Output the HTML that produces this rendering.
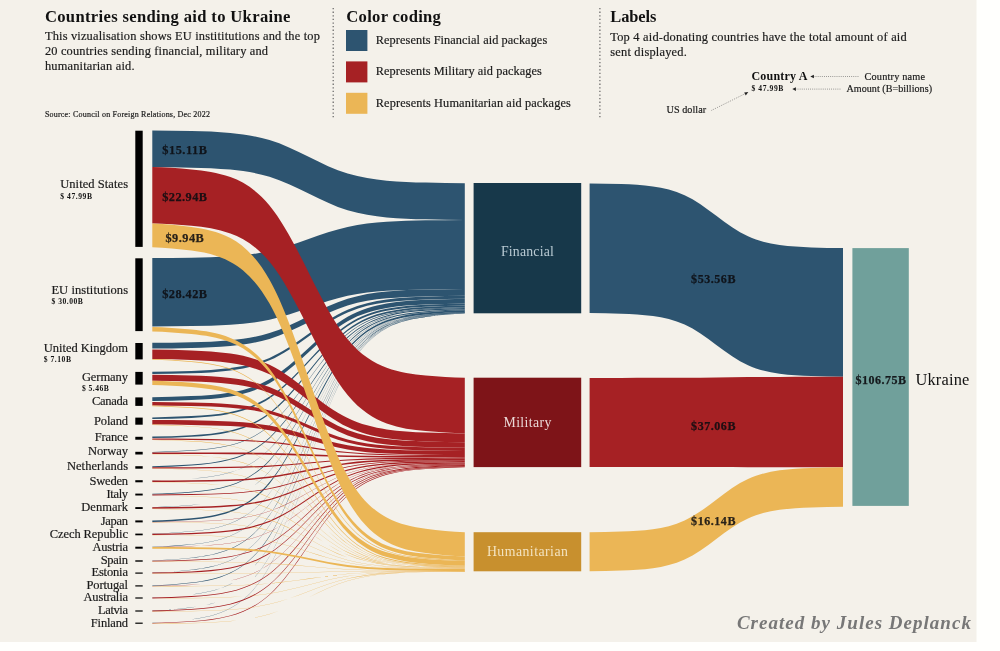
<!DOCTYPE html>
<html lang="en"><head><meta charset="utf-8"><title>Countries sending aid to Ukraine</title>
<style>html,body{margin:0;padding:0;background:#fff}body{width:1000px;height:651px;overflow:hidden}svg{display:block}</style>
</head><body>
<svg width="1000" height="651" viewBox="0 0 1000 651" font-family="Liberation Serif, serif">
<rect width="1000" height="651" fill="#fffffd"/>
<rect width="976.5" height="642" fill="#f4f1ea"/>
<g fill="#2d5470">
<path d="M152.3 130.5C165.3 130.6 178.3 130.8 191.4 131.1C204.4 131.4 217.4 131.8 230.4 133C243.4 134.2 256.5 136.2 269.5 140.1C282.5 144 295.5 150.3 308.6 156.8C321.6 163.4 334.6 169.7 347.6 173.6C360.6 177.5 373.7 179.5 386.7 180.7C399.7 181.9 412.7 182.3 425.7 182.6C438.8 182.9 451.8 183.1 464.8 183.2V219.9C451.8 219.9 438.8 219.6 425.7 219.3C412.7 219.1 399.7 218.6 386.7 217.4C373.7 216.2 360.6 214.2 347.6 210.3C334.6 206.3 321.6 200.1 308.6 193.5C295.5 186.9 282.5 180.7 269.5 176.7C256.5 172.8 243.4 170.8 230.4 169.6C217.4 168.4 204.4 168 191.4 167.7C178.3 167.4 165.3 167.2 152.3 167.1Z"/>
<path d="M152.3 258.1C165.3 258.1 178.3 257.9 191.4 257.7C204.4 257.5 217.4 257.2 230.4 256.3C243.4 255.4 256.5 254 269.5 251.1C282.5 248.3 295.5 243.8 308.6 239C321.6 234.2 334.6 229.7 347.6 226.9C360.6 224 373.7 222.6 386.7 221.7C399.7 220.9 412.7 220.5 425.7 220.3C438.8 220.1 451.8 220 464.8 219.9V289C451.8 289 438.8 289.2 425.7 289.4C412.7 289.6 399.7 289.9 386.7 290.8C373.7 291.6 360.6 293 347.6 295.8C334.6 298.6 321.6 303 308.6 307.7C295.5 312.4 282.5 316.9 269.5 319.7C256.5 322.5 243.4 323.9 230.4 324.7C217.4 325.6 204.4 325.9 191.4 326.1C178.3 326.3 165.3 326.5 152.3 326.5Z"/>
<path d="M152.3 342.8C165.3 342.7 178.3 342.5 191.4 342.2C204.4 341.9 217.4 341.5 230.4 340.2C243.4 339 256.5 337 269.5 333C282.5 329 295.5 322.6 308.6 315.9C321.6 309.2 334.6 302.8 347.6 298.8C360.6 294.8 373.7 292.7 386.7 291.5C399.7 290.3 412.7 289.9 425.7 289.6C438.8 289.3 451.8 289 464.8 289V295.8C451.8 295.9 438.8 296.1 425.7 296.4C412.7 296.7 399.7 297.1 386.7 298.3C373.7 299.5 360.6 301.5 347.6 305.4C334.6 309.4 321.6 315.6 308.6 322.2C295.5 328.7 282.5 335 269.5 338.9C256.5 342.8 243.4 344.8 230.4 346C217.4 347.2 204.4 347.6 191.4 347.9C178.3 348.2 165.3 348.4 152.3 348.5Z"/>
<path d="M152.3 371.7C165.3 371.6 178.3 371.3 191.4 370.9C204.4 370.5 217.4 369.8 230.4 368.1C243.4 366.4 256.5 363.5 269.5 357.9C282.5 352.2 295.5 343.2 308.6 333.8C321.6 324.3 334.6 315.3 347.6 309.7C360.6 304 373.7 301.1 386.7 299.4C399.7 297.7 412.7 297.1 425.7 296.7C438.8 296.3 451.8 295.9 464.8 295.8V298.7C451.8 298.8 438.8 299.1 425.7 299.5C412.7 300 399.7 300.6 386.7 302.3C373.7 304 360.6 306.8 347.6 312.5C334.6 318.1 321.6 327 308.6 336.4C295.5 345.8 282.5 354.7 269.5 360.3C256.5 366 243.4 368.8 230.4 370.5C217.4 372.2 204.4 372.9 191.4 373.3C178.3 373.7 165.3 374 152.3 374.1Z"/>
<path d="M152.3 397.2C165.3 397.1 178.3 396.7 191.4 396.1C204.4 395.6 217.4 394.8 230.4 392.5C243.4 390.3 256.5 386.6 269.5 379.2C282.5 371.9 295.5 360.3 308.6 348C321.6 335.6 334.6 324 347.6 316.7C360.6 309.3 373.7 305.6 386.7 303.4C399.7 301.2 412.7 300.3 425.7 299.8C438.8 299.3 451.8 298.8 464.8 298.7V303.4C451.8 303.5 438.8 304 425.7 304.5C412.7 305 399.7 305.8 386.7 308C373.7 310.2 360.6 313.9 347.6 321.2C334.6 328.5 321.6 340 308.6 352.3C295.5 364.5 282.5 376 269.5 383.3C256.5 390.6 243.4 394.3 230.4 396.5C217.4 398.7 204.4 399.5 191.4 400C178.3 400.6 165.3 401 152.3 401.1Z"/>
<path d="M152.3 417.4C165.3 417.3 178.3 416.8 191.4 416.1C204.4 415.5 217.4 414.6 230.4 412C243.4 409.4 256.5 405.1 269.5 396.6C282.5 388.1 295.5 374.7 308.6 360.4C321.6 346.2 334.6 332.7 347.6 324.2C360.6 315.7 373.7 311.4 386.7 308.8C399.7 306.2 412.7 305.3 425.7 304.7C438.8 304 451.8 303.6 464.8 303.4V305.5C451.8 305.6 438.8 306.1 425.7 306.7C412.7 307.3 399.7 308.3 386.7 310.8C373.7 313.4 360.6 317.7 347.6 326.2C334.6 334.7 321.6 348.1 308.6 362.3C295.5 376.5 282.5 389.9 269.5 398.4C256.5 406.8 243.4 411.1 230.4 413.7C217.4 416.3 204.4 417.2 191.4 417.9C178.3 418.5 165.3 419 152.3 419.1Z"/>
<path d="M152.3 436.6C165.3 436.4 178.3 435.9 191.4 435.2C204.4 434.4 217.4 433.3 230.4 430.4C243.4 427.4 256.5 422.5 269.5 412.7C282.5 402.9 295.5 387.4 308.6 371C321.6 354.6 334.6 339.2 347.6 329.4C360.6 319.6 373.7 314.6 386.7 311.7C399.7 308.7 412.7 307.6 425.7 306.9C438.8 306.2 451.8 305.6 464.8 305.5V307.3C451.8 307.4 438.8 308 425.7 308.7C412.7 309.4 399.7 310.5 386.7 313.5C373.7 316.4 360.6 321.4 347.6 331.1C334.6 340.9 321.6 356.3 308.6 372.7C295.5 389 282.5 404.5 269.5 414.2C256.5 424 243.4 428.9 230.4 431.9C217.4 434.9 204.4 436 191.4 436.7C178.3 437.4 165.3 437.9 152.3 438.1Z"/>
<path d="M152.3 451.9C165.3 451.7 178.3 451.1 191.4 450.3C204.4 449.5 217.4 448.3 230.4 445C243.4 441.7 256.5 436.3 269.5 425.5C282.5 414.7 295.5 397.6 308.6 379.6C321.6 361.5 334.6 344.4 347.6 333.6C360.6 322.9 373.7 317.4 386.7 314.1C399.7 310.8 412.7 309.6 425.7 308.8C438.8 308.1 451.8 307.4 464.8 307.3V307.9C451.8 308.1 438.8 308.7 425.7 309.5C412.7 310.3 399.7 311.5 386.7 314.8C373.7 318 360.6 323.5 347.6 334.3C334.6 345 321.6 362.1 308.6 380.1C295.5 398.2 282.5 415.3 269.5 426C256.5 436.8 243.4 442.3 230.4 445.5C217.4 448.8 204.4 450 191.4 450.8C178.3 451.6 165.3 452.2 152.3 452.4Z"/>
<path d="M152.3 466.3C165.3 466.1 178.3 465.5 191.4 464.6C204.4 463.7 217.4 462.4 230.4 458.8C243.4 455.2 256.5 449.2 269.5 437.4C282.5 425.6 295.5 406.9 308.6 387.1C321.6 367.3 334.6 348.6 347.6 336.8C360.6 325 373.7 319 386.7 315.4C399.7 311.8 412.7 310.5 425.7 309.6C438.8 308.8 451.8 308.1 464.8 307.9V309C451.8 309.2 438.8 309.9 425.7 310.8C412.7 311.6 399.7 312.9 386.7 316.5C373.7 320.1 360.6 326.1 347.6 337.9C334.6 349.7 321.6 368.4 308.6 388.1C295.5 407.9 282.5 426.6 269.5 438.4C256.5 450.2 243.4 456.2 230.4 459.8C217.4 463.3 204.4 464.7 191.4 465.5C178.3 466.4 165.3 467.1 152.3 467.3Z"/>
<path d="M152.3 480.3C165.3 480.1 178.3 479.3 191.4 478.4C204.4 477.5 217.4 476 230.4 472.2C243.4 468.3 256.5 461.8 269.5 449C282.5 436.3 295.5 416.1 308.6 394.6C321.6 373.2 334.6 353 347.6 340.3C360.6 327.5 373.7 321 386.7 317.1C399.7 313.3 412.7 311.8 425.7 310.9C438.8 310 451.8 309.2 464.8 309V309.2C451.8 309.5 438.8 310.2 425.7 311.1C412.7 312.1 399.7 313.5 386.7 317.4C373.7 321.2 360.6 327.7 347.6 340.5C334.6 353.3 321.6 373.5 308.6 394.9C295.5 416.3 282.5 436.5 269.5 449.3C256.5 462 243.4 468.5 230.4 472.4C217.4 476.2 204.4 477.7 191.4 478.6C178.3 479.5 165.3 480.3 152.3 480.5Z"/>
<path d="M152.3 493.7C165.3 493.5 178.3 492.7 191.4 491.7C204.4 490.7 217.4 489.1 230.4 485C243.4 480.8 256.5 473.8 269.5 460.1C282.5 446.3 295.5 424.5 308.6 401.5C321.6 378.4 334.6 356.7 347.6 342.9C360.6 329.1 373.7 322.2 386.7 318C399.7 313.8 412.7 312.3 425.7 311.3C438.8 310.3 451.8 309.5 464.8 309.2V310.2C451.8 310.4 438.8 311.2 425.7 312.2C412.7 313.2 399.7 314.8 386.7 318.9C373.7 323.1 360.6 330.1 347.6 343.8C334.6 357.6 321.6 379.3 308.6 402.3C295.5 425.4 282.5 447.1 269.5 460.9C256.5 474.6 243.4 481.6 230.4 485.8C217.4 489.9 204.4 491.5 191.4 492.5C178.3 493.5 165.3 494.3 152.3 494.5Z"/>
<path d="M152.3 507.2C165.3 507 178.3 506.2 191.4 505.1C204.4 504 217.4 502.4 230.4 497.9C243.4 493.5 256.5 486 269.5 471.3C282.5 456.6 295.5 433.3 308.6 408.7C321.6 384.1 334.6 360.8 347.6 346.1C360.6 331.4 373.7 324 386.7 319.5C399.7 315.1 412.7 313.4 425.7 312.3C438.8 311.3 451.8 310.4 464.8 310.2V310.4C451.8 310.6 438.8 311.5 425.7 312.6C412.7 313.6 399.7 315.3 386.7 319.7C373.7 324.2 360.6 331.7 347.6 346.4C334.6 361 321.6 384.3 308.6 408.9C295.5 433.6 282.5 456.8 269.5 471.5C256.5 486.2 243.4 493.7 230.4 498.1C217.4 502.6 204.4 504.2 191.4 505.3C178.3 506.4 165.3 507.2 152.3 507.5Z"/>
<path d="M152.3 520.5C165.3 520.2 178.3 519.3 191.4 518.2C204.4 517 217.4 515.3 230.4 510.5C243.4 505.8 256.5 497.8 269.5 482.1C282.5 466.5 295.5 441.7 308.6 415.4C321.6 389.1 334.6 364.3 347.6 348.6C360.6 333 373.7 325 386.7 320.3C399.7 315.5 412.7 313.7 425.7 312.6C438.8 311.5 451.8 310.6 464.8 310.3V312.1C451.8 312.4 438.8 313.3 425.7 314.4C412.7 315.6 399.7 317.3 386.7 322.1C373.7 326.8 360.6 334.7 347.6 350.4C334.6 366 321.6 390.8 308.6 417.1C295.5 443.3 282.5 468.1 269.5 483.7C256.5 499.4 243.4 507.3 230.4 512C217.4 516.8 204.4 518.5 191.4 519.7C178.3 520.8 165.3 521.7 152.3 522Z"/>
<path d="M152.3 533.7C165.3 533.4 178.3 532.4 191.4 531.2C204.4 530 217.4 528.2 230.4 523.2C243.4 518.1 256.5 509.8 269.5 493.2C282.5 476.7 295.5 450.6 308.6 422.9C321.6 395.2 334.6 369 347.6 352.5C360.6 336 373.7 327.6 386.7 322.6C399.7 317.6 412.7 315.7 425.7 314.5C438.8 313.3 451.8 312.4 464.8 312.1V312.3C451.8 312.6 438.8 313.6 425.7 314.8C412.7 316 399.7 317.8 386.7 322.8C373.7 327.8 360.6 336.2 347.6 352.7C334.6 369.3 321.6 395.4 308.6 423.1C295.5 450.8 282.5 476.9 269.5 493.5C256.5 510 243.4 518.4 230.4 523.4C217.4 528.4 204.4 530.2 191.4 531.4C178.3 532.6 165.3 533.6 152.3 533.9Z"/>
<path d="M152.3 546.8C165.3 546.5 178.3 545.5 191.4 544.3C204.4 543 217.4 541 230.4 535.7C243.4 530.4 256.5 521.5 269.5 504C282.5 486.5 295.5 458.8 308.6 429.5C321.6 400.2 334.6 372.5 347.6 355C360.6 337.5 373.7 328.6 386.7 323.3C399.7 318 412.7 316 425.7 314.7C438.8 313.4 451.8 312.4 464.8 312.1V312.4C451.8 312.6 438.8 313.7 425.7 314.9C412.7 316.2 399.7 318.2 386.7 323.5C373.7 328.8 360.6 337.7 347.6 355.2C334.6 372.7 321.6 400.4 308.6 429.7C295.5 459 282.5 486.7 269.5 504.2C256.5 521.7 243.4 530.6 230.4 535.9C217.4 541.2 204.4 543.2 191.4 544.5C178.3 545.8 165.3 546.8 152.3 547.1Z"/>
<path d="M152.3 560.4C165.3 560.1 178.3 559 191.4 557.7C204.4 556.3 217.4 554.2 230.4 548.6C243.4 543 256.5 533.6 269.5 515.1C282.5 496.6 295.5 467.3 308.6 436.3C321.6 405.3 334.6 376 347.6 357.5C360.6 339 373.7 329.6 386.7 324C399.7 318.4 412.7 316.3 425.7 314.9C438.8 313.6 451.8 312.5 464.8 312.2V312.7C451.8 313 438.8 314 425.7 315.4C412.7 316.7 399.7 318.8 386.7 324.4C373.7 330 360.6 339.4 347.6 357.9C334.6 376.4 321.6 405.7 308.6 436.7C295.5 467.7 282.5 497 269.5 515.5C256.5 534 243.4 543.4 230.4 549C217.4 554.6 204.4 556.7 191.4 558.1C178.3 559.4 165.3 560.5 152.3 560.8Z"/>
<path d="M152.3 572.6C165.3 572.3 178.3 571.2 191.4 569.7C204.4 568.3 217.4 566.1 230.4 560.3C243.4 554.4 256.5 544.6 269.5 525.2C282.5 505.8 295.5 475.1 308.6 442.6C321.6 410.1 334.6 379.5 347.6 360.1C360.6 340.7 373.7 330.9 386.7 325C399.7 319.1 412.7 316.9 425.7 315.5C438.8 314.1 451.8 313 464.8 312.7V312.9C451.8 313.2 438.8 314.3 425.7 315.7C412.7 317.2 399.7 319.3 386.7 325.2C373.7 331.1 360.6 340.9 347.6 360.3C334.6 379.7 321.6 410.4 308.6 442.9C295.5 475.3 282.5 506 269.5 525.4C256.5 544.8 243.4 554.6 230.4 560.5C217.4 566.4 204.4 568.6 191.4 570C178.3 571.4 165.3 572.5 152.3 572.8Z"/>
<path d="M152.3 585.6C165.3 585.2 178.3 584.1 191.4 582.6C204.4 581.1 217.4 578.8 230.4 572.6C243.4 566.5 256.5 556.2 269.5 535.8C282.5 515.5 295.5 483.3 308.6 449.1C321.6 415 334.6 382.8 347.6 362.5C360.6 342.1 373.7 331.8 386.7 325.6C399.7 319.5 412.7 317.2 425.7 315.7C438.8 314.2 451.8 313 464.8 312.7V313.3C451.8 313.7 438.8 314.9 425.7 316.3C412.7 317.8 399.7 320.1 386.7 326.3C373.7 332.4 360.6 342.8 347.6 363.1C334.6 383.4 321.6 415.6 308.6 449.7C295.5 483.8 282.5 516 269.5 536.4C256.5 556.7 243.4 567 230.4 573.2C217.4 579.3 204.4 581.6 191.4 583.1C178.3 584.6 165.3 585.8 152.3 586.1Z"/>
<path d="M152.3 597.5C165.3 597.2 178.3 595.9 191.4 594.4C204.4 592.8 217.4 590.5 230.4 584C243.4 577.6 256.5 566.9 269.5 545.7C282.5 524.5 295.5 490.9 308.6 455.4C321.6 419.9 334.6 386.4 347.6 365.2C360.6 344 373.7 333.2 386.7 326.8C399.7 320.4 412.7 318 425.7 316.5C438.8 314.9 451.8 313.7 464.8 313.3V313.6C451.8 313.9 438.8 315.1 425.7 316.7C412.7 318.2 399.7 320.6 386.7 327C373.7 333.5 360.6 344.2 347.6 365.4C334.6 386.6 321.6 420.1 308.6 455.6C295.5 491.2 282.5 524.7 269.5 545.9C256.5 567.1 243.4 577.8 230.4 584.3C217.4 590.7 204.4 593.1 191.4 594.6C178.3 596.2 165.3 597.4 152.3 597.7Z"/>
<path d="M152.3 610.5C165.3 610.1 178.3 608.9 191.4 607.2C204.4 605.6 217.4 603.1 230.4 596.4C243.4 589.7 256.5 578.5 269.5 556.3C282.5 534.1 295.5 499.1 308.6 461.9C321.6 424.8 334.6 389.7 347.6 367.6C360.6 345.4 373.7 334.2 386.7 327.5C399.7 320.7 412.7 318.2 425.7 316.6C438.8 315 451.8 313.7 464.8 313.4V313.6C451.8 314 438.8 315.2 425.7 316.9C412.7 318.5 399.7 321 386.7 327.7C373.7 334.4 360.6 345.6 347.6 367.8C334.6 390 321.6 425 308.6 462.2C295.5 499.3 282.5 534.4 269.5 556.5C256.5 578.7 243.4 589.9 230.4 596.6C217.4 603.4 204.4 605.9 191.4 607.5C178.3 609.1 165.3 610.4 152.3 610.7Z"/>
<path d="M152.3 622.8C165.3 622.4 178.3 621 191.4 619.4C204.4 617.7 217.4 615.1 230.4 608.1C243.4 601.1 256.5 589.4 269.5 566.3C282.5 543.3 295.5 506.8 308.6 468.1C321.6 429.4 334.6 392.9 347.6 369.9C360.6 346.8 373.7 335.1 386.7 328.1C399.7 321.1 412.7 318.5 425.7 316.8C438.8 315.1 451.8 313.8 464.8 313.4V313.6C451.8 314 438.8 315.4 425.7 317C412.7 318.7 399.7 321.3 386.7 328.3C373.7 335.3 360.6 347 347.6 370.1C334.6 393.1 321.6 429.6 308.6 468.3C295.5 507 282.5 543.5 269.5 566.6C256.5 589.6 243.4 601.3 230.4 608.3C217.4 615.3 204.4 617.9 191.4 619.6C178.3 621.3 165.3 622.6 152.3 623Z"/>
</g>
<g fill="#a62124">
<path d="M152.3 167.1C165.3 167.4 178.3 168.3 191.4 169.4C204.4 170.6 217.4 172.3 230.4 177.1C243.4 181.8 256.5 189.8 269.5 205.5C282.5 221.2 295.5 246.1 308.6 272.4C321.6 298.7 334.6 323.6 347.6 339.3C360.6 355 373.7 363 386.7 367.7C399.7 372.5 412.7 374.2 425.7 375.4C438.8 376.5 451.8 377.4 464.8 377.7V433.4C451.8 433.2 438.8 432.3 425.7 431.1C412.7 430 399.7 428.2 386.7 423.5C373.7 418.7 360.6 410.8 347.6 395.1C334.6 379.5 321.6 354.7 308.6 328.5C295.5 302.2 282.5 277.5 269.5 261.8C256.5 246.1 243.4 238.2 230.4 233.5C217.4 228.7 204.4 226.9 191.4 225.8C178.3 224.7 165.3 223.8 152.3 223.5Z"/>
<path d="M152.3 349.5C165.3 349.6 178.3 350 191.4 350.4C204.4 350.9 217.4 351.6 230.4 353.5C243.4 355.4 256.5 358.6 269.5 364.8C282.5 371.1 295.5 381 308.6 391.5C321.6 402 334.6 411.9 347.6 418.1C360.6 424.4 373.7 427.6 386.7 429.5C399.7 431.4 412.7 432.1 425.7 432.5C438.8 433 451.8 433.3 464.8 433.4V442.3C451.8 442.2 438.8 441.8 425.7 441.4C412.7 440.9 399.7 440.2 386.7 438.3C373.7 436.5 360.6 433.3 347.6 427.1C334.6 420.9 321.6 411.1 308.6 400.7C295.5 390.3 282.5 380.5 269.5 374.3C256.5 368.1 243.4 364.9 230.4 363C217.4 361.2 204.4 360.5 191.4 360C178.3 359.6 165.3 359.2 152.3 359.1Z"/>
<path d="M152.3 374.8C165.3 374.9 178.3 375.2 191.4 375.5C204.4 375.9 217.4 376.5 230.4 378C243.4 379.5 256.5 382.1 269.5 387.1C282.5 392.1 295.5 400.1 308.6 408.5C321.6 417 334.6 424.9 347.6 430C360.6 435 373.7 437.6 386.7 439.1C399.7 440.6 412.7 441.2 425.7 441.5C438.8 441.9 451.8 442.2 464.8 442.3V447.7C451.8 447.6 438.8 447.4 425.7 447C412.7 446.6 399.7 446.1 386.7 444.5C373.7 443 360.6 440.5 347.6 435.5C334.6 430.5 321.6 422.6 308.6 414.2C295.5 405.8 282.5 397.9 269.5 392.9C256.5 387.9 243.4 385.4 230.4 383.9C217.4 382.4 204.4 381.8 191.4 381.4C178.3 381.1 165.3 380.8 152.3 380.7Z"/>
<path d="M152.3 402.1C165.3 402.2 178.3 402.4 191.4 402.6C204.4 402.8 217.4 403.2 230.4 404.3C243.4 405.3 256.5 407 269.5 410.4C282.5 413.8 295.5 419.2 308.6 424.9C321.6 430.6 334.6 436 347.6 439.4C360.6 442.8 373.7 444.5 386.7 445.6C399.7 446.6 412.7 447 425.7 447.2C438.8 447.5 451.8 447.7 464.8 447.7V450.9C451.8 450.8 438.8 450.6 425.7 450.4C412.7 450.1 399.7 449.7 386.7 448.7C373.7 447.7 360.6 446 347.6 442.6C334.6 439.2 321.6 433.8 308.6 428.2C295.5 422.5 282.5 417.2 269.5 413.8C256.5 410.4 243.4 408.7 230.4 407.7C217.4 406.6 204.4 406.2 191.4 406C178.3 405.8 165.3 405.6 152.3 405.5Z"/>
<path d="M152.3 420C165.3 420 178.3 420.2 191.4 420.3C204.4 420.5 217.4 420.8 230.4 421.5C243.4 422.2 256.5 423.3 269.5 425.6C282.5 427.9 295.5 431.6 308.6 435.4C321.6 439.3 334.6 442.9 347.6 445.2C360.6 447.5 373.7 448.7 386.7 449.4C399.7 450.1 412.7 450.3 425.7 450.5C438.8 450.7 451.8 450.8 464.8 450.9V455.1C451.8 455.1 438.8 454.9 425.7 454.8C412.7 454.6 399.7 454.3 386.7 453.6C373.7 453 360.6 451.8 347.6 449.5C334.6 447.3 321.6 443.7 308.6 439.8C295.5 436 282.5 432.4 269.5 430.2C256.5 427.9 243.4 426.7 230.4 426C217.4 425.4 204.4 425.1 191.4 424.9C178.3 424.8 165.3 424.6 152.3 424.6Z"/>
<path d="M152.3 438.6C165.3 438.6 178.3 438.7 191.4 438.8C204.4 438.9 217.4 439 230.4 439.4C243.4 439.8 256.5 440.4 269.5 441.6C282.5 442.8 295.5 444.8 308.6 446.8C321.6 448.9 334.6 450.9 347.6 452.1C360.6 453.3 373.7 453.9 386.7 454.3C399.7 454.7 412.7 454.8 425.7 454.9C438.8 455 451.8 455.1 464.8 455.1V456.1C451.8 456.1 438.8 456 425.7 455.9C412.7 455.8 399.7 455.7 386.7 455.3C373.7 455 360.6 454.3 347.6 453.1C334.6 451.9 321.6 450 308.6 447.9C295.5 445.9 282.5 443.9 269.5 442.7C256.5 441.5 243.4 440.8 230.4 440.5C217.4 440.1 204.4 440 191.4 439.9C178.3 439.8 165.3 439.7 152.3 439.7Z"/>
<path d="M152.3 452.4C165.3 452.4 178.3 452.4 191.4 452.4C204.4 452.5 217.4 452.5 230.4 452.6C243.4 452.7 256.5 452.8 269.5 453.1C282.5 453.3 295.5 453.8 308.6 454.3C321.6 454.7 334.6 455.2 347.6 455.4C360.6 455.7 373.7 455.8 386.7 455.9C399.7 456 412.7 456 425.7 456.1C438.8 456.1 451.8 456.1 464.8 456.1V457.7C451.8 457.7 438.8 457.7 425.7 457.6C412.7 457.6 399.7 457.6 386.7 457.5C373.7 457.4 360.6 457.3 347.6 457C334.6 456.8 321.6 456.3 308.6 455.9C295.5 455.4 282.5 455 269.5 454.7C256.5 454.5 243.4 454.3 230.4 454.3C217.4 454.2 204.4 454.2 191.4 454.1C178.3 454.1 165.3 454.1 152.3 454.1Z"/>
<path d="M152.3 467.3C165.3 467.2 178.3 467.2 191.4 467.2C204.4 467.1 217.4 467 230.4 466.8C243.4 466.6 256.5 466.2 269.5 465.5C282.5 464.8 295.5 463.7 308.6 462.5C321.6 461.3 334.6 460.1 347.6 459.4C360.6 458.7 373.7 458.3 386.7 458.1C399.7 457.9 412.7 457.8 425.7 457.8C438.8 457.7 451.8 457.7 464.8 457.7V458.8C451.8 458.8 438.8 458.8 425.7 458.9C412.7 459 399.7 459 386.7 459.3C373.7 459.5 360.6 459.8 347.6 460.6C334.6 461.3 321.6 462.4 308.6 463.6C295.5 464.8 282.5 466 269.5 466.7C256.5 467.4 243.4 467.8 230.4 468C217.4 468.2 204.4 468.3 191.4 468.4C178.3 468.4 165.3 468.5 152.3 468.5Z"/>
<path d="M152.3 480.5C165.3 480.4 178.3 480.4 191.4 480.2C204.4 480.1 217.4 479.9 230.4 479.4C243.4 479 256.5 478.1 269.5 476.5C282.5 474.9 295.5 472.3 308.6 469.6C321.6 466.9 334.6 464.4 347.6 462.7C360.6 461.1 373.7 460.3 386.7 459.8C399.7 459.3 412.7 459.1 425.7 459C438.8 458.9 451.8 458.8 464.8 458.8V460.2C451.8 460.2 438.8 460.3 425.7 460.4C412.7 460.5 399.7 460.7 386.7 461.2C373.7 461.7 360.6 462.5 347.6 464.2C334.6 465.8 321.6 468.4 308.6 471.1C295.5 473.8 282.5 476.4 269.5 478C256.5 479.6 243.4 480.5 230.4 480.9C217.4 481.4 204.4 481.6 191.4 481.7C178.3 481.9 165.3 482 152.3 482Z"/>
<path d="M152.3 494.5C165.3 494.5 178.3 494.3 191.4 494.1C204.4 493.9 217.4 493.7 230.4 492.9C243.4 492.1 256.5 490.8 269.5 488.2C282.5 485.7 295.5 481.6 308.6 477.3C321.6 473.1 334.6 469 347.6 466.4C360.6 463.9 373.7 462.6 386.7 461.8C399.7 461 412.7 460.7 425.7 460.6C438.8 460.4 451.8 460.2 464.8 460.2V461C451.8 461 438.8 461.2 425.7 461.4C412.7 461.6 399.7 461.8 386.7 462.6C373.7 463.4 360.6 464.7 347.6 467.3C334.6 469.8 321.6 473.9 308.6 478.2C295.5 482.5 282.5 486.5 269.5 489.1C256.5 491.7 243.4 493 230.4 493.7C217.4 494.5 204.4 494.8 191.4 495C178.3 495.2 165.3 495.3 152.3 495.4Z"/>
<path d="M152.3 507.3C165.3 507.3 178.3 507.1 191.4 506.8C204.4 506.6 217.4 506.2 230.4 505.1C243.4 504.1 256.5 502.3 269.5 498.9C282.5 495.4 295.5 490 308.6 484.2C321.6 478.4 334.6 472.9 347.6 469.4C360.6 466 373.7 464.2 386.7 463.2C399.7 462.1 412.7 461.7 425.7 461.5C438.8 461.2 451.8 461 464.8 461V462.3C451.8 462.4 438.8 462.6 425.7 462.8C412.7 463.1 399.7 463.5 386.7 464.5C373.7 465.6 360.6 467.3 347.6 470.8C334.6 474.3 321.6 479.8 308.6 485.6C295.5 491.4 282.5 496.9 269.5 500.3C256.5 503.8 243.4 505.6 230.4 506.6C217.4 507.7 204.4 508 191.4 508.3C178.3 508.5 165.3 508.7 152.3 508.8Z"/>
<path d="M152.3 522C165.3 521.9 178.3 521.7 191.4 521.3C204.4 521 217.4 520.5 230.4 519.2C243.4 517.8 256.5 515.6 269.5 511.1C282.5 506.7 295.5 499.6 308.6 492.2C321.6 484.7 334.6 477.7 347.6 473.2C360.6 468.8 373.7 466.5 386.7 465.2C399.7 463.8 412.7 463.3 425.7 463C438.8 462.7 451.8 462.4 464.8 462.3V462.6C451.8 462.6 438.8 462.9 425.7 463.2C412.7 463.5 399.7 464 386.7 465.4C373.7 466.7 360.6 469 347.6 473.4C334.6 477.9 321.6 484.9 308.6 492.4C295.5 499.8 282.5 506.9 269.5 511.3C256.5 515.8 243.4 518 230.4 519.4C217.4 520.7 204.4 521.2 191.4 521.6C178.3 521.9 165.3 522.1 152.3 522.2Z"/>
<path d="M152.3 533.7C165.3 533.6 178.3 533.3 191.4 532.9C204.4 532.5 217.4 531.9 230.4 530.3C243.4 528.7 256.5 526 269.5 520.7C282.5 515.4 295.5 506.9 308.6 498C321.6 489.1 334.6 480.7 347.6 475.4C360.6 470 373.7 467.3 386.7 465.7C399.7 464.1 412.7 463.5 425.7 463.1C438.8 462.7 451.8 462.4 464.8 462.4V463.5C451.8 463.6 438.8 463.9 425.7 464.3C412.7 464.7 399.7 465.3 386.7 466.9C373.7 468.5 360.6 471.2 347.6 476.5C334.6 481.9 321.6 490.3 308.6 499.2C295.5 508.2 282.5 516.6 269.5 521.9C256.5 527.2 243.4 529.9 230.4 531.6C217.4 533.2 204.4 533.8 191.4 534.2C178.3 534.6 165.3 534.9 152.3 534.9Z"/>
<path d="M152.3 546.9C165.3 546.8 178.3 546.4 191.4 546C204.4 545.5 217.4 544.8 230.4 542.9C243.4 541.1 256.5 537.9 269.5 531.7C282.5 525.5 295.5 515.6 308.6 505.2C321.6 494.8 334.6 484.9 347.6 478.7C360.6 472.5 373.7 469.4 386.7 467.5C399.7 465.6 412.7 464.9 425.7 464.4C438.8 464 451.8 463.6 464.8 463.5V463.7C451.8 463.8 438.8 464.2 425.7 464.7C412.7 465.1 399.7 465.8 386.7 467.7C373.7 469.6 360.6 472.7 347.6 478.9C334.6 485.2 321.6 495 308.6 505.4C295.5 515.8 282.5 525.7 269.5 531.9C256.5 538.1 243.4 541.3 230.4 543.2C217.4 545 204.4 545.7 191.4 546.2C178.3 546.6 165.3 547 152.3 547.1Z"/>
<path d="M152.3 560.8C165.3 560.7 178.3 560.2 191.4 559.7C204.4 559.2 217.4 558.4 230.4 556.2C243.4 554 256.5 550.3 269.5 543C282.5 535.8 295.5 524.3 308.6 512.2C321.6 500 334.6 488.5 347.6 481.3C360.6 474 373.7 470.3 386.7 468.2C399.7 466 412.7 465.1 425.7 464.6C438.8 464.1 451.8 463.7 464.8 463.5V464.2C451.8 464.3 438.8 464.8 425.7 465.3C412.7 465.8 399.7 466.6 386.7 468.8C373.7 471 360.6 474.7 347.6 482C334.6 489.2 321.6 500.7 308.6 512.9C295.5 525 282.5 536.5 269.5 543.8C256.5 551 243.4 554.7 230.4 556.9C217.4 559.1 204.4 559.9 191.4 560.4C178.3 561 165.3 561.4 152.3 561.5Z"/>
<path d="M152.3 572.6C165.3 572.5 178.3 572 191.4 571.4C204.4 570.8 217.4 569.9 230.4 567.5C243.4 565 256.5 560.9 269.5 552.8C282.5 544.8 295.5 532 308.6 518.4C321.6 504.9 334.6 492.1 347.6 484C360.6 475.9 373.7 471.8 386.7 469.4C399.7 466.9 412.7 466 425.7 465.4C438.8 464.8 451.8 464.3 464.8 464.2V465.1C451.8 465.2 438.8 465.7 425.7 466.3C412.7 466.8 399.7 467.8 386.7 470.2C373.7 472.7 360.6 476.8 347.6 484.9C334.6 492.9 321.6 505.7 308.6 519.3C295.5 532.9 282.5 545.7 269.5 553.8C256.5 561.8 243.4 566 230.4 568.4C217.4 570.9 204.4 571.8 191.4 572.4C178.3 572.9 165.3 573.4 152.3 573.5Z"/>
<path d="M152.3 586.1C165.3 586 178.3 585.4 191.4 584.8C204.4 584.1 217.4 583.1 230.4 580.4C243.4 577.6 256.5 573.1 269.5 564C282.5 555 295.5 540.7 308.6 525.6C321.6 510.5 334.6 496.2 347.6 487.1C360.6 478.1 373.7 473.5 386.7 470.8C399.7 468.1 412.7 467 425.7 466.4C438.8 465.7 451.8 465.2 464.8 465.1V465.3C451.8 465.4 438.8 466 425.7 466.6C412.7 467.3 399.7 468.3 386.7 471C373.7 473.8 360.6 478.3 347.6 487.4C334.6 496.4 321.6 510.7 308.6 525.8C295.5 540.9 282.5 555.2 269.5 564.3C256.5 573.3 243.4 577.9 230.4 580.6C217.4 583.3 204.4 584.4 191.4 585C178.3 585.7 165.3 586.2 152.3 586.3Z"/>
<path d="M152.3 597.5C165.3 597.4 178.3 596.8 191.4 596.1C204.4 595.4 217.4 594.2 230.4 591.3C243.4 588.3 256.5 583.3 269.5 573.4C282.5 563.5 295.5 547.9 308.6 531.3C321.6 514.8 334.6 499.1 347.6 489.3C360.6 479.4 373.7 474.4 386.7 471.4C399.7 468.4 412.7 467.3 425.7 466.6C438.8 465.8 451.8 465.3 464.8 465.1V465.9C451.8 466.1 438.8 466.6 425.7 467.4C412.7 468.1 399.7 469.2 386.7 472.2C373.7 475.2 360.6 480.2 347.6 490.1C334.6 500 321.6 515.6 308.6 532.2C295.5 548.7 282.5 564.4 269.5 574.2C256.5 584.1 243.4 589.1 230.4 592.1C217.4 595.1 204.4 596.2 191.4 597C178.3 597.7 165.3 598.2 152.3 598.4Z"/>
<path d="M152.3 610.6C165.3 610.4 178.3 609.8 191.4 609C204.4 608.2 217.4 607 230.4 603.7C243.4 600.4 256.5 595 269.5 584.2C282.5 573.4 295.5 556.3 308.6 538.2C321.6 520.2 334.6 503.1 347.6 492.3C360.6 481.5 373.7 476 386.7 472.8C399.7 469.5 412.7 468.3 425.7 467.5C438.8 466.7 451.8 466.1 464.8 465.9V466.7C451.8 466.9 438.8 467.5 425.7 468.3C412.7 469.1 399.7 470.3 386.7 473.6C373.7 476.9 360.6 482.3 347.6 493.1C334.6 503.9 321.6 521 308.6 539.1C295.5 557.2 282.5 574.2 269.5 585C256.5 595.8 243.4 601.3 230.4 604.6C217.4 607.8 204.4 609.1 191.4 609.8C178.3 610.6 165.3 611.3 152.3 611.4Z"/>
<path d="M152.3 622.9C165.3 622.7 178.3 622 191.4 621.2C204.4 620.3 217.4 619 230.4 615.5C243.4 612 256.5 606.1 269.5 594.4C282.5 582.8 295.5 564.3 308.6 544.8C321.6 525.3 334.6 506.9 347.6 495.2C360.6 483.6 373.7 477.7 386.7 474.1C399.7 470.6 412.7 469.3 425.7 468.4C438.8 467.6 451.8 466.9 464.8 466.7V467.3C451.8 467.5 438.8 468.2 425.7 469C412.7 469.9 399.7 471.2 386.7 474.7C373.7 478.2 360.6 484.2 347.6 495.8C334.6 507.5 321.6 525.9 308.6 545.4C295.5 565 282.5 583.4 269.5 595C256.5 606.7 243.4 612.6 230.4 616.1C217.4 619.7 204.4 621 191.4 621.8C178.3 622.7 165.3 623.3 152.3 623.5Z"/>
</g>
<g fill="#ebb656">
<path d="M152.3 223.5C165.3 223.9 178.3 225.2 191.4 226.9C204.4 228.6 217.4 231.2 230.4 238.1C243.4 245.1 256.5 256.8 269.5 279.8C282.5 302.8 295.5 339.3 308.6 377.9C321.6 416.4 334.6 452.9 347.6 475.9C360.6 498.9 373.7 510.6 386.7 517.6C399.7 524.5 412.7 527.1 425.7 528.8C438.8 530.5 451.8 531.8 464.8 532.2V556.4C451.8 556 438.8 554.6 425.7 553C412.7 551.3 399.7 548.7 386.7 541.7C373.7 534.7 360.6 523 347.6 500C334.6 476.9 321.6 440.4 308.6 401.8C295.5 363.2 282.5 326.7 269.5 303.6C256.5 280.6 243.4 268.9 230.4 261.9C217.4 254.9 204.4 252.3 191.4 250.6C178.3 249 165.3 247.6 152.3 247.2Z"/>
<path d="M152.3 327C165.3 327.3 178.3 328.3 191.4 329.5C204.4 330.8 217.4 332.7 230.4 337.9C243.4 343.1 256.5 351.7 269.5 368.8C282.5 385.9 295.5 413 308.6 441.7C321.6 470.3 334.6 497.4 347.6 514.5C360.6 531.6 373.7 540.3 386.7 545.5C399.7 550.7 412.7 552.6 425.7 553.8C438.8 555.1 451.8 556.1 464.8 556.4V560.2C451.8 559.9 438.8 558.9 425.7 557.7C412.7 556.4 399.7 554.5 386.7 549.3C373.7 544.2 360.6 535.5 347.6 518.5C334.6 501.4 321.6 474.4 308.6 445.8C295.5 417.2 282.5 390.2 269.5 373.1C256.5 356.1 243.4 347.4 230.4 342.3C217.4 337.1 204.4 335.2 191.4 333.9C178.3 332.7 165.3 331.7 152.3 331.4Z"/>
<path d="M152.3 359.1C165.3 359.3 178.3 360.2 191.4 361.3C204.4 362.4 217.4 364.1 230.4 368.6C243.4 373.2 256.5 380.8 269.5 395.8C282.5 410.8 295.5 434.5 308.6 459.6C321.6 484.8 334.6 508.5 347.6 523.5C360.6 538.5 373.7 546.1 386.7 550.7C399.7 555.2 412.7 556.9 425.7 558C438.8 559.1 451.8 559.9 464.8 560.2V560.9C451.8 560.6 438.8 559.8 425.7 558.7C412.7 557.6 399.7 555.9 386.7 551.3C373.7 546.8 360.6 539.2 347.6 524.2C334.6 509.2 321.6 485.4 308.6 460.3C295.5 435.1 282.5 411.4 269.5 396.4C256.5 381.4 243.4 373.8 230.4 369.2C217.4 364.7 204.4 363 191.4 361.9C178.3 360.8 165.3 359.9 152.3 359.7Z"/>
<path d="M152.3 380.7C165.3 380.9 178.3 381.7 191.4 382.7C204.4 383.7 217.4 385.2 230.4 389.2C243.4 393.3 256.5 400.1 269.5 413.6C282.5 427 295.5 448.3 308.6 470.8C321.6 493.3 334.6 514.6 347.6 528C360.6 541.4 373.7 548.3 386.7 552.3C399.7 556.4 412.7 557.9 425.7 558.9C438.8 559.9 451.8 560.7 464.8 560.9V565.7C451.8 565.5 438.8 564.7 425.7 563.7C412.7 562.7 399.7 561.2 386.7 557.1C373.7 553 360.6 546.2 347.6 532.7C334.6 519.2 321.6 497.9 308.6 475.3C295.5 452.7 282.5 431.4 269.5 417.9C256.5 404.4 243.4 397.6 230.4 393.5C217.4 389.4 204.4 387.9 191.4 386.9C178.3 385.9 165.3 385.1 152.3 384.9Z"/>
<path d="M152.3 405.5C165.3 405.7 178.3 406.4 191.4 407.3C204.4 408.1 217.4 409.5 230.4 413.1C243.4 416.7 256.5 422.8 269.5 434.7C282.5 446.7 295.5 465.6 308.6 485.6C321.6 505.6 334.6 524.5 347.6 536.5C360.6 548.4 373.7 554.5 386.7 558.1C399.7 561.7 412.7 563.1 425.7 563.9C438.8 564.8 451.8 565.5 464.8 565.7V566.5C451.8 566.3 438.8 565.6 425.7 564.7C412.7 563.9 399.7 562.5 386.7 558.9C373.7 555.3 360.6 549.2 347.6 537.3C334.6 525.3 321.6 506.4 308.6 486.4C295.5 466.3 282.5 447.4 269.5 435.4C256.5 423.5 243.4 417.4 230.4 413.8C217.4 410.2 204.4 408.8 191.4 408C178.3 407.1 165.3 406.4 152.3 406.2Z"/>
<path d="M152.3 424.6C165.3 424.8 178.3 425.4 191.4 426.2C204.4 426.9 217.4 428.1 230.4 431.3C243.4 434.5 256.5 439.9 269.5 450.5C282.5 461.1 295.5 477.8 308.6 495.6C321.6 513.3 334.6 530 347.6 540.6C360.6 551.2 373.7 556.6 386.7 559.8C399.7 563 412.7 564.2 425.7 564.9C438.8 565.7 451.8 566.3 464.8 566.5V567C451.8 566.8 438.8 566.2 425.7 565.4C412.7 564.6 399.7 563.4 386.7 560.2C373.7 557 360.6 551.6 347.6 541.1C334.6 530.5 321.6 513.7 308.6 496C295.5 478.2 282.5 461.5 269.5 450.9C256.5 440.3 243.4 434.9 230.4 431.7C217.4 428.5 204.4 427.3 191.4 426.6C178.3 425.8 165.3 425.2 152.3 425Z"/>
<path d="M152.3 439.7C165.3 439.9 178.3 440.4 191.4 441.1C204.4 441.8 217.4 442.9 230.4 445.7C243.4 448.6 256.5 453.4 269.5 462.9C282.5 472.4 295.5 487.4 308.6 503.3C321.6 519.2 334.6 534.3 347.6 543.7C360.6 553.2 373.7 558 386.7 560.9C399.7 563.8 412.7 564.9 425.7 565.6C438.8 566.3 451.8 566.8 464.8 567V567.3C451.8 567.1 438.8 566.6 425.7 565.9C412.7 565.2 399.7 564.1 386.7 561.3C373.7 558.4 360.6 553.6 347.6 544.1C334.6 534.6 321.6 519.6 308.6 503.7C295.5 487.7 282.5 472.7 269.5 463.2C256.5 453.7 243.4 448.9 230.4 446C217.4 443.2 204.4 442.1 191.4 441.4C178.3 440.7 165.3 440.2 152.3 440Z"/>
<path d="M152.3 454.1C165.3 454.2 178.3 454.7 191.4 455.3C204.4 456 217.4 456.9 230.4 459.5C243.4 462 256.5 466.3 269.5 474.7C282.5 483.2 295.5 496.5 308.6 510.7C321.6 524.9 334.6 538.2 347.6 546.7C360.6 555.1 373.7 559.4 386.7 561.9C399.7 564.5 412.7 565.4 425.7 566.1C438.8 566.7 451.8 567.2 464.8 567.3V567.6C451.8 567.4 438.8 567 425.7 566.3C412.7 565.7 399.7 564.8 386.7 562.2C373.7 559.7 360.6 555.4 347.6 546.9C334.6 538.5 321.6 525.1 308.6 511C295.5 496.8 282.5 483.4 269.5 475C256.5 466.6 243.4 462.3 230.4 459.7C217.4 457.2 204.4 456.2 191.4 455.6C178.3 455 165.3 454.5 152.3 454.3Z"/>
<path d="M152.3 468.5C165.3 468.6 178.3 469 191.4 469.6C204.4 470.1 217.4 470.9 230.4 473.2C243.4 475.4 256.5 479.2 269.5 486.6C282.5 493.9 295.5 505.6 308.6 518C321.6 530.4 334.6 542.1 347.6 549.5C360.6 556.9 373.7 560.6 386.7 562.9C399.7 565.1 412.7 566 425.7 566.5C438.8 567 451.8 567.5 464.8 567.6V567.8C451.8 567.7 438.8 567.3 425.7 566.7C412.7 566.2 399.7 565.3 386.7 563.1C373.7 560.9 360.6 557.1 347.6 549.7C334.6 542.3 321.6 530.6 308.6 518.2C295.5 505.9 282.5 494.2 269.5 486.8C256.5 479.4 243.4 475.6 230.4 473.4C217.4 471.2 204.4 470.3 191.4 469.8C178.3 469.2 165.3 468.8 152.3 468.7Z"/>
<path d="M152.3 482C165.3 482.1 178.3 482.5 191.4 482.9C204.4 483.4 217.4 484.1 230.4 486C243.4 488 256.5 491.2 269.5 497.6C282.5 504 295.5 514.2 308.6 524.9C321.6 535.6 334.6 545.7 347.6 552.1C360.6 558.5 373.7 561.8 386.7 563.7C399.7 565.7 412.7 566.4 425.7 566.9C438.8 567.3 451.8 567.7 464.8 567.8V568.1C451.8 568 438.8 567.6 425.7 567.1C412.7 566.7 399.7 566 386.7 564C373.7 562.1 360.6 558.8 347.6 552.4C334.6 546 321.6 535.9 308.6 525.2C295.5 514.4 282.5 504.3 269.5 497.9C256.5 491.5 243.4 488.2 230.4 486.3C217.4 484.4 204.4 483.6 191.4 483.2C178.3 482.7 165.3 482.3 152.3 482.2Z"/>
<path d="M152.3 495.4C165.3 495.5 178.3 495.8 191.4 496.2C204.4 496.6 217.4 497.2 230.4 498.8C243.4 500.5 256.5 503.2 269.5 508.6C282.5 514.1 295.5 522.6 308.6 531.7C321.6 540.8 334.6 549.4 347.6 554.8C360.6 560.2 373.7 563 386.7 564.6C399.7 566.3 412.7 566.9 425.7 567.3C438.8 567.7 451.8 568 464.8 568.1V568.3C451.8 568.2 438.8 567.9 425.7 567.5C412.7 567.1 399.7 566.5 386.7 564.9C373.7 563.2 360.6 560.5 347.6 555C334.6 549.6 321.6 541 308.6 532C295.5 522.9 282.5 514.3 269.5 508.9C256.5 503.4 243.4 500.7 230.4 499C217.4 497.4 204.4 496.8 191.4 496.4C178.3 496 165.3 495.7 152.3 495.6Z"/>
<path d="M152.3 508.8C165.3 508.9 178.3 509.1 191.4 509.5C204.4 509.8 217.4 510.3 230.4 511.6C243.4 513 256.5 515.2 269.5 519.6C282.5 524.1 295.5 531.1 308.6 538.5C321.6 545.9 334.6 552.9 347.6 557.4C360.6 561.8 373.7 564 386.7 565.4C399.7 566.7 412.7 567.2 425.7 567.5C438.8 567.9 451.8 568.1 464.8 568.2V568.4C451.8 568.3 438.8 568.1 425.7 567.8C412.7 567.4 399.7 566.9 386.7 565.6C373.7 564.3 360.6 562 347.6 557.6C334.6 553.2 321.6 546.1 308.6 538.7C295.5 531.3 282.5 524.3 269.5 519.9C256.5 515.4 243.4 513.2 230.4 511.8C217.4 510.5 204.4 510 191.4 509.7C178.3 509.4 165.3 509.1 152.3 509Z"/>
<path d="M152.3 522C165.3 522.1 178.3 522.3 191.4 522.5C204.4 522.8 217.4 523.2 230.4 524.2C243.4 525.3 256.5 527 269.5 530.5C282.5 533.9 295.5 539.4 308.6 545.2C321.6 551 334.6 556.5 347.6 559.9C360.6 563.4 373.7 565.1 386.7 566.2C399.7 567.2 412.7 567.6 425.7 567.9C438.8 568.1 451.8 568.3 464.8 568.4V568.7C451.8 568.6 438.8 568.4 425.7 568.2C412.7 567.9 399.7 567.5 386.7 566.5C373.7 565.4 360.6 563.7 347.6 560.2C334.6 556.8 321.6 551.3 308.6 545.5C295.5 539.7 282.5 534.2 269.5 530.8C256.5 527.3 243.4 525.6 230.4 524.5C217.4 523.5 204.4 523.1 191.4 522.8C178.3 522.6 165.3 522.4 152.3 522.3Z"/>
<path d="M152.3 534.9C165.3 535 178.3 535.1 191.4 535.3C204.4 535.5 217.4 535.8 230.4 536.5C243.4 537.3 256.5 538.6 269.5 541.1C282.5 543.6 295.5 547.6 308.6 551.8C321.6 556 334.6 560 347.6 562.5C360.6 565.1 373.7 566.3 386.7 567.1C399.7 567.9 412.7 568.1 425.7 568.3C438.8 568.5 451.8 568.7 464.8 568.7V568.9C451.8 568.9 438.8 568.7 425.7 568.5C412.7 568.4 399.7 568.1 386.7 567.3C373.7 566.6 360.6 565.3 347.6 562.8C334.6 560.2 321.6 556.3 308.6 552C295.5 547.8 282.5 543.8 269.5 541.3C256.5 538.8 243.4 537.5 230.4 536.8C217.4 536 204.4 535.7 191.4 535.5C178.3 535.4 165.3 535.2 152.3 535.2Z"/>
<path d="M152.3 546.9C165.3 546.9 178.3 547 191.4 547.2C204.4 547.3 217.4 547.5 230.4 548C243.4 548.5 256.5 549.3 269.5 550.9C282.5 552.6 295.5 555.2 308.6 557.9C321.6 560.7 334.6 563.3 347.6 564.9C360.6 566.5 373.7 567.4 386.7 567.9C399.7 568.4 412.7 568.6 425.7 568.7C438.8 568.8 451.8 568.9 464.8 568.9V570.9C451.8 570.9 438.8 570.8 425.7 570.7C412.7 570.6 399.7 570.4 386.7 569.9C373.7 569.4 360.6 568.5 347.6 566.9C334.6 565.2 321.6 562.6 308.6 559.8C295.5 557 282.5 554.4 269.5 552.7C256.5 551.1 243.4 550.2 230.4 549.7C217.4 549.2 204.4 549 191.4 548.9C178.3 548.8 165.3 548.7 152.3 548.7Z"/>
<path d="M152.3 561.5C165.3 561.5 178.3 561.6 191.4 561.6C204.4 561.7 217.4 561.7 230.4 562C243.4 562.2 256.5 562.5 269.5 563.2C282.5 563.9 295.5 565 308.6 566.2C321.6 567.4 334.6 568.5 347.6 569.2C360.6 569.9 373.7 570.3 386.7 570.5C399.7 570.7 412.7 570.8 425.7 570.8C438.8 570.9 451.8 570.9 464.8 570.9V571.1C451.8 571.1 438.8 571.1 425.7 571C412.7 571 399.7 570.9 386.7 570.7C373.7 570.5 360.6 570.1 347.6 569.4C334.6 568.7 321.6 567.6 308.6 566.4C295.5 565.3 282.5 564.2 269.5 563.4C256.5 562.7 243.4 562.4 230.4 562.2C217.4 562 204.4 561.9 191.4 561.8C178.3 561.8 165.3 561.7 152.3 561.7Z"/>
<path d="M152.3 573.5C165.3 573.5 178.3 573.5 191.4 573.5C204.4 573.5 217.4 573.5 230.4 573.4C243.4 573.4 256.5 573.3 269.5 573.1C282.5 572.9 295.5 572.6 308.6 572.3C321.6 572 334.6 571.7 347.6 571.5C360.6 571.3 373.7 571.2 386.7 571.2C399.7 571.1 412.7 571.1 425.7 571.1C438.8 571.1 451.8 571 464.8 571V571.3C451.8 571.3 438.8 571.3 425.7 571.3C412.7 571.3 399.7 571.3 386.7 571.4C373.7 571.4 360.6 571.5 347.6 571.7C334.6 571.9 321.6 572.2 308.6 572.5C295.5 572.8 282.5 573.1 269.5 573.3C256.5 573.5 243.4 573.6 230.4 573.7C217.4 573.7 204.4 573.7 191.4 573.7C178.3 573.8 165.3 573.8 152.3 573.8Z"/>
<path d="M152.3 586.2C165.3 586.1 178.3 586.1 191.4 586C204.4 585.9 217.4 585.8 230.4 585.5C243.4 585.1 256.5 584.5 269.5 583.4C282.5 582.3 295.5 580.5 308.6 578.6C321.6 576.7 334.6 575 347.6 573.8C360.6 572.7 373.7 572.1 386.7 571.8C399.7 571.5 412.7 571.3 425.7 571.3C438.8 571.2 451.8 571.1 464.8 571.1V571.3C451.8 571.3 438.8 571.4 425.7 571.5C412.7 571.6 399.7 571.7 386.7 572C373.7 572.4 360.6 572.9 347.6 574.1C334.6 575.2 321.6 577 308.6 578.9C295.5 580.7 282.5 582.5 269.5 583.6C256.5 584.8 243.4 585.3 230.4 585.7C217.4 586 204.4 586.1 191.4 586.2C178.3 586.3 165.3 586.4 152.3 586.4Z"/>
<path d="M152.3 598.4C165.3 598.4 178.3 598.3 191.4 598.1C204.4 598 217.4 597.7 230.4 597.1C243.4 596.5 256.5 595.5 269.5 593.4C282.5 591.4 295.5 588.2 308.6 584.8C321.6 581.4 334.6 578.2 347.6 576.1C360.6 574.1 373.7 573.1 386.7 572.4C399.7 571.8 412.7 571.6 425.7 571.4C438.8 571.3 451.8 571.2 464.8 571.1V571.4C451.8 571.4 438.8 571.5 425.7 571.7C412.7 571.8 399.7 572 386.7 572.7C373.7 573.3 360.6 574.3 347.6 576.3C334.6 578.4 321.6 581.6 308.6 585C295.5 588.4 282.5 591.6 269.5 593.7C256.5 595.7 243.4 596.7 230.4 597.3C217.4 598 204.4 598.2 191.4 598.3C178.3 598.5 165.3 598.6 152.3 598.6Z"/>
<path d="M152.3 611.4C165.3 611.4 178.3 611.2 191.4 611C204.4 610.8 217.4 610.4 230.4 609.5C243.4 608.6 256.5 607.1 269.5 604.1C282.5 601.1 295.5 596.4 308.6 591.3C321.6 586.3 334.6 581.6 347.6 578.6C360.6 575.6 373.7 574 386.7 573.1C399.7 572.2 412.7 571.9 425.7 571.7C438.8 571.5 451.8 571.3 464.8 571.2V571.5C451.8 571.5 438.8 571.7 425.7 571.9C412.7 572.1 399.7 572.5 386.7 573.4C373.7 574.3 360.6 575.8 347.6 578.8C334.6 581.8 321.6 586.5 308.6 591.6C295.5 596.6 282.5 601.3 269.5 604.3C256.5 607.3 243.4 608.8 230.4 609.8C217.4 610.7 204.4 611 191.4 611.2C178.3 611.4 165.3 611.6 152.3 611.7Z"/>
<path d="M152.3 623.5C165.3 623.5 178.3 623.3 191.4 623C204.4 622.7 217.4 622.2 230.4 621.1C243.4 619.9 256.5 617.9 269.5 614C282.5 610.1 295.5 603.9 308.6 597.4C321.6 590.9 334.6 584.7 347.6 580.8C360.6 576.9 373.7 574.9 386.7 573.8C399.7 572.6 412.7 572.1 425.7 571.9C438.8 571.6 451.8 571.4 464.8 571.3V571.5C451.8 571.6 438.8 571.8 425.7 572.1C412.7 572.4 399.7 572.8 386.7 574C373.7 575.2 360.6 577.1 347.6 581C334.6 584.9 321.6 591.1 308.6 597.6C295.5 604.2 282.5 610.3 269.5 614.2C256.5 618.1 243.4 620.1 230.4 621.3C217.4 622.5 204.4 622.9 191.4 623.2C178.3 623.5 165.3 623.7 152.3 623.8Z"/>
</g>
<g fill="#000">
<rect x="135.3" y="130.7" width="7.4" height="116.2"/>
<rect x="135.3" y="258.3" width="7.4" height="72.8"/>
<rect x="135.3" y="343.0" width="7.4" height="16.4"/>
<rect x="135.3" y="371.9" width="7.4" height="12.7"/>
<rect x="135.3" y="397.4" width="7.4" height="8.5"/>
<rect x="135.3" y="417.6" width="7.4" height="7.1"/>
<rect x="135.3" y="436.8" width="7.4" height="2.9"/>
<rect x="135.3" y="451.8" width="7.4" height="2.7"/>
<rect x="135.3" y="466.2" width="7.4" height="2.5"/>
<rect x="135.3" y="480.2" width="7.4" height="2.1"/>
<rect x="135.3" y="493.6" width="7.4" height="1.9"/>
<rect x="135.3" y="507.1" width="7.4" height="1.9"/>
<rect x="135.3" y="520.4" width="7.4" height="2.0"/>
<rect x="135.3" y="533.6" width="7.4" height="1.7"/>
<rect x="135.3" y="546.7" width="7.4" height="2.0"/>
<rect x="135.3" y="560.3" width="7.4" height="1.4"/>
<rect x="135.3" y="572.5" width="7.4" height="1.2"/>
<rect x="135.3" y="585.3" width="7.4" height="1.2"/>
<rect x="135.3" y="597.4" width="7.4" height="1.2"/>
<rect x="135.3" y="610.4" width="7.4" height="1.2"/>
<rect x="135.3" y="622.6" width="7.4" height="1.2"/>
</g>
<rect x="473.6" y="183.0" width="107.6" height="130.3" fill="#17384a"/>
<rect x="473.6" y="377.7" width="107.6" height="89.4" fill="#7e1418"/>
<rect x="473.6" y="532.2" width="107.6" height="39.1" fill="#c8902e"/>
<path fill="#2d5470" d="M589.6 183.4C600.2 183.5 610.7 183.8 621.3 184.1C631.8 184.5 642.4 185 652.9 186.5C663.5 187.9 674.1 190.4 684.6 195.2C695.2 200 705.7 207.7 716.3 215.8C726.9 223.8 737.4 231.5 748 236.3C758.5 241.1 769.1 243.6 779.6 245C790.2 246.5 800.8 247 811.3 247.4C821.9 247.7 832.4 248 843 248.1V376.8C832.4 376.7 821.9 376.4 811.3 376.1C800.8 375.8 790.2 375.2 779.6 373.8C769.1 372.3 758.5 369.9 748 365.2C737.4 360.4 726.9 352.9 716.3 344.9C705.7 336.9 695.2 329.4 684.6 324.6C674.1 319.9 663.5 317.5 653 316C642.4 314.6 631.8 314 621.3 313.7C610.7 313.4 600.2 313.1 589.6 313Z"/>
<path fill="#a62124" d="M589.6 377.9C600.2 377.9 610.7 377.9 621.3 377.9C631.8 377.9 642.4 377.9 652.9 377.8C663.5 377.8 674.1 377.8 684.6 377.7C695.2 377.6 705.7 377.5 716.3 377.4C726.9 377.2 737.4 377.1 748 377C758.5 376.9 769.1 376.9 779.6 376.9C790.2 376.8 800.8 376.8 811.3 376.8C821.9 376.8 832.4 376.8 843 376.8V467.2C832.4 467.2 821.9 467.2 811.3 467.2C800.8 467.2 790.2 467.2 779.6 467.2C769.1 467.2 758.5 467.2 748 467.2C737.4 467.2 726.9 467.2 716.3 467.1C705.7 467.1 695.2 467.1 684.6 467.1C674.1 467.1 663.5 467.1 653 467.1C642.4 467.1 631.8 467.1 621.3 467.1C610.7 467.1 600.2 467.1 589.6 467.1Z"/>
<path fill="#ebb656" d="M589.6 532.3C600.2 532.2 610.7 531.9 621.3 531.6C631.8 531.2 642.4 530.7 652.9 529.2C663.5 527.7 674.1 525.3 684.6 520.4C695.2 515.6 705.7 507.9 716.3 499.8C726.9 491.6 737.4 483.9 748 479.1C758.5 474.2 769.1 471.8 779.6 470.3C790.2 468.8 800.8 468.3 811.3 467.9C821.9 467.6 832.4 467.3 843 467.2V506.7C832.4 506.8 821.9 507.1 811.3 507.4C800.8 507.8 790.2 508.3 779.6 509.8C769.1 511.2 758.5 513.7 748 518.5C737.4 523.3 726.9 530.9 716.3 539C705.7 547.1 695.2 554.7 684.6 559.5C674.1 564.3 663.5 566.8 653 568.2C642.4 569.7 631.8 570.2 621.3 570.6C610.7 570.9 600.2 571.2 589.6 571.3Z"/>
<rect x="852.4" y="248.1" width="56.4" height="257.8" fill="#70a09b"/>
<text x="44.9" y="22.3" font-size="16.6" font-weight="bold" fill="#111" textLength="245.5" lengthAdjust="spacing">Countries sending aid to Ukraine</text>
<text x="44.9" y="40.3" font-size="12.4" fill="#1a1a1a" stroke="#1a1a1a" stroke-width="0.18" textLength="275" lengthAdjust="spacing">This vizualisation shows EU instititutions and the top</text>
<text x="44.9" y="55.15" font-size="12.4" fill="#1a1a1a" stroke="#1a1a1a" stroke-width="0.18" letter-spacing="0.18">20 countries sending financial, military and</text>
<text x="44.9" y="70.0" font-size="12.4" fill="#1a1a1a" stroke="#1a1a1a" stroke-width="0.18" letter-spacing="0.18">humanitarian aid.</text>
<text x="44.9" y="117.2" font-size="8" fill="#1a1a1a" stroke="#1a1a1a" stroke-width="0.18" textLength="165" lengthAdjust="spacing">Source: Council on Foreign Relations, Dec 2022</text>
<line x1="333.2" y1="8" x2="333.2" y2="118" stroke="#626262" stroke-width="1.2" stroke-dasharray="1.3 2.3"/>
<line x1="599.9" y1="8" x2="599.9" y2="118" stroke="#626262" stroke-width="1.2" stroke-dasharray="1.3 2.3"/>
<text x="346.3" y="21.7" font-size="16.6" font-weight="bold" fill="#111" textLength="94.6" lengthAdjust="spacing">Color coding</text>
<rect x="346" y="30.0" width="21.4" height="21" fill="#2d5470"/>
<text x="375.8" y="44.0" font-size="12.3" fill="#1a1a1a" stroke="#1a1a1a" stroke-width="0.18" textLength="171.4" lengthAdjust="spacing">Represents Financial aid packages</text>
<rect x="346" y="61.4" width="21.4" height="21" fill="#a62124"/>
<text x="375.8" y="75.45" font-size="12.3" fill="#1a1a1a" stroke="#1a1a1a" stroke-width="0.18" letter-spacing="0.08">Represents Military aid packages</text>
<rect x="346" y="92.8" width="21.4" height="21" fill="#ebb656"/>
<text x="375.8" y="106.9" font-size="12.3" fill="#1a1a1a" stroke="#1a1a1a" stroke-width="0.18" textLength="195" lengthAdjust="spacing">Represents Humanitarian aid packages</text>
<text x="610.3" y="21.6" font-size="16.4" font-weight="bold" fill="#111" textLength="46" lengthAdjust="spacing">Labels</text>
<text x="610.3" y="41" font-size="12.4" fill="#1a1a1a" stroke="#1a1a1a" stroke-width="0.18" textLength="296.4" lengthAdjust="spacing">Top 4 aid-donating countries have the total amount of aid</text>
<text x="610.3" y="55.5" font-size="12.4" fill="#1a1a1a" stroke="#1a1a1a" stroke-width="0.18" letter-spacing="0.2">sent displayed.</text>
<text x="751.4" y="80.4" font-size="12" font-weight="bold" fill="#111" textLength="56.1" lengthAdjust="spacing">Country A</text>
<text x="751.4" y="90.9" font-size="7.6" font-weight="bold" fill="#111" textLength="32" lengthAdjust="spacing">$ 47.99B</text>
<text x="864.5" y="79.5" font-size="10.3" fill="#1a1a1a" stroke="#1a1a1a" stroke-width="0.18" textLength="60.6" lengthAdjust="spacing">Country name</text>
<text x="846.5" y="92.1" font-size="10.1" fill="#1a1a1a" stroke="#1a1a1a" stroke-width="0.18" textLength="85.5" lengthAdjust="spacing">Amount (B=billions)</text>
<text x="666.5" y="112.5" font-size="10.2" fill="#1a1a1a" stroke="#1a1a1a" stroke-width="0.18" textLength="39.6" lengthAdjust="spacing">US dollar</text>
<g stroke="#555" stroke-width="0.7" stroke-dasharray="0.8 1.3" fill="none"><line x1="813.5" y1="76.5" x2="859.5" y2="76.5"/><line x1="795.5" y1="89.1" x2="841.5" y2="89.1"/><line x1="711.5" y1="110.4" x2="745.5" y2="93.5"/></g>
<g fill="#222"><path d="M810.3 76.5l3.6-1.8v3.6z"/><path d="M792.3 89.1l3.6-1.8v3.6z"/><path d="M748.3 92.1l-4.1 0.3 1.6 3.2z"/></g>
<text x="128" y="188.2" font-size="12.5" text-anchor="end" fill="#1a1a1a" stroke="#1a1a1a" stroke-width="0.18" textLength="67.8" lengthAdjust="spacing">United States</text>
<text x="60.2" y="198.6" font-size="7.6" font-weight="bold" fill="#111" textLength="31.8" lengthAdjust="spacing">$ 47.99B</text>
<text x="128" y="293.8" font-size="12.5" text-anchor="end" fill="#1a1a1a" stroke="#1a1a1a" stroke-width="0.18" textLength="76.6" lengthAdjust="spacing">EU institutions</text>
<text x="51.4" y="304.3" font-size="7.6" font-weight="bold" fill="#111" textLength="31.5" lengthAdjust="spacing">$ 30.00B</text>
<text x="128" y="352.4" font-size="12.5" text-anchor="end" fill="#1a1a1a" stroke="#1a1a1a" stroke-width="0.18" textLength="84.2" lengthAdjust="spacing">United Kingdom</text>
<text x="43.8" y="361.8" font-size="7.6" font-weight="bold" fill="#111" textLength="27.2" lengthAdjust="spacing">$ 7.10B</text>
<text x="128" y="380.6" font-size="12.5" text-anchor="end" fill="#1a1a1a" stroke="#1a1a1a" stroke-width="0.18" textLength="46.1" lengthAdjust="spacing">Germany</text>
<text x="81.9" y="391" font-size="7.6" font-weight="bold" fill="#111" textLength="27" lengthAdjust="spacing">$ 5.46B</text>
<text x="128" y="405.0" font-size="12.5" text-anchor="end" fill="#1a1a1a" stroke="#1a1a1a" stroke-width="0.18" textLength="36.0" lengthAdjust="spacing">Canada</text>
<text x="128" y="425.0" font-size="12.5" text-anchor="end" fill="#1a1a1a" stroke="#1a1a1a" stroke-width="0.18" textLength="34.0" lengthAdjust="spacing">Poland</text>
<text x="128" y="440.6" font-size="12.5" text-anchor="end" fill="#1a1a1a" stroke="#1a1a1a" stroke-width="0.18" textLength="33.3" lengthAdjust="spacing">France</text>
<text x="128" y="455.0" font-size="12.5" text-anchor="end" fill="#1a1a1a" stroke="#1a1a1a" stroke-width="0.18" textLength="40.1" lengthAdjust="spacing">Norway</text>
<text x="128" y="470.0" font-size="12.5" text-anchor="end" fill="#1a1a1a" stroke="#1a1a1a" stroke-width="0.18" textLength="61.1" lengthAdjust="spacing">Netherlands</text>
<text x="128" y="484.6" font-size="12.5" text-anchor="end" fill="#1a1a1a" stroke="#1a1a1a" stroke-width="0.18" textLength="38.4" lengthAdjust="spacing">Sweden</text>
<text x="128" y="497.9" font-size="12.5" text-anchor="end" fill="#1a1a1a" stroke="#1a1a1a" stroke-width="0.18" textLength="21.5" lengthAdjust="spacing">Italy</text>
<text x="128" y="511.4" font-size="12.5" text-anchor="end" fill="#1a1a1a" stroke="#1a1a1a" stroke-width="0.18" textLength="46.7" lengthAdjust="spacing">Denmark</text>
<text x="128" y="524.7" font-size="12.5" text-anchor="end" fill="#1a1a1a" stroke="#1a1a1a" stroke-width="0.18" textLength="27.3" lengthAdjust="spacing">Japan</text>
<text x="128" y="537.7" font-size="12.5" text-anchor="end" fill="#1a1a1a" stroke="#1a1a1a" stroke-width="0.18" textLength="78.2" lengthAdjust="spacing">Czech Republic</text>
<text x="128" y="551.0" font-size="12.5" text-anchor="end" fill="#1a1a1a" stroke="#1a1a1a" stroke-width="0.18" textLength="35.6" lengthAdjust="spacing">Austria</text>
<text x="128" y="564.3" font-size="12.5" text-anchor="end" fill="#1a1a1a" stroke="#1a1a1a" stroke-width="0.18" textLength="27.3" lengthAdjust="spacing">Spain</text>
<text x="128" y="576.4" font-size="12.5" text-anchor="end" fill="#1a1a1a" stroke="#1a1a1a" stroke-width="0.18" textLength="36.6" lengthAdjust="spacing">Estonia</text>
<text x="128" y="589.2" font-size="12.5" text-anchor="end" fill="#1a1a1a" stroke="#1a1a1a" stroke-width="0.18" textLength="41.5" lengthAdjust="spacing">Portugal</text>
<text x="128" y="601.3" font-size="12.5" text-anchor="end" fill="#1a1a1a" stroke="#1a1a1a" stroke-width="0.18" textLength="44.5" lengthAdjust="spacing">Australia</text>
<text x="128" y="614.3" font-size="12.5" text-anchor="end" fill="#1a1a1a" stroke="#1a1a1a" stroke-width="0.18" textLength="30.0" lengthAdjust="spacing">Latvia</text>
<text x="128" y="626.5" font-size="12.5" text-anchor="end" fill="#1a1a1a" stroke="#1a1a1a" stroke-width="0.18" textLength="37.2" lengthAdjust="spacing">Finland</text>
<text x="162.2" y="154.3" font-size="12.3" font-weight="bold" fill="#0c0c10" textLength="44.8" lengthAdjust="spacing" opacity="0.88" stroke="#0c0c10" stroke-width="0.25">$15.11B</text>
<text x="162.2" y="201.4" font-size="12.3" font-weight="bold" fill="#0c0c10" textLength="44.8" lengthAdjust="spacing" opacity="0.88" stroke="#0c0c10" stroke-width="0.25">$22.94B</text>
<text x="165.5" y="241.5" font-size="12.3" font-weight="bold" fill="#0c0c10" textLength="38.2" lengthAdjust="spacing" opacity="0.88" stroke="#0c0c10" stroke-width="0.25">$9.94B</text>
<text x="162.2" y="298.2" font-size="12.3" font-weight="bold" fill="#0c0c10" textLength="44.8" lengthAdjust="spacing" opacity="0.88" stroke="#0c0c10" stroke-width="0.25">$28.42B</text>
<text x="691.1" y="283.4" font-size="12" font-weight="bold" fill="#0c0c10" textLength="44.3" lengthAdjust="spacing" opacity="0.88" stroke="#0c0c10" stroke-width="0.25">$53.56B</text>
<text x="691.1" y="429.6" font-size="12" font-weight="bold" fill="#0c0c10" textLength="44.3" lengthAdjust="spacing" opacity="0.88" stroke="#0c0c10" stroke-width="0.25">$37.06B</text>
<text x="691.1" y="524.7" font-size="12" font-weight="bold" fill="#0c0c10" textLength="44.3" lengthAdjust="spacing" opacity="0.88" stroke="#0c0c10" stroke-width="0.25">$16.14B</text>
<text x="855.4" y="383.8" font-size="12" font-weight="bold" fill="#0c0c10" textLength="50.6" lengthAdjust="spacing" opacity="0.9" stroke="#0c0c10" stroke-width="0.25">$106.75B</text>
<text x="915.5" y="384.5" font-size="16.4" fill="#111" textLength="53.8" lengthAdjust="spacing">Ukraine</text>
<text x="527.4" y="255.8" font-size="13.8" text-anchor="middle" fill="#b9cad3" textLength="53" lengthAdjust="spacing">Financial</text>
<text x="527.4" y="427.2" font-size="13.8" text-anchor="middle" fill="#ead8d6" textLength="47.8" lengthAdjust="spacing">Military</text>
<text x="527.4" y="555.5" font-size="13.8" text-anchor="middle" fill="#f3e3c0" textLength="81" lengthAdjust="spacing">Humanitarian</text>
<text x="736.9" y="629.1" font-size="19" font-weight="bold" fill="#777" font-style="italic" textLength="234" lengthAdjust="spacing">Created by Jules Deplanck</text>
</svg>
</body></html>
